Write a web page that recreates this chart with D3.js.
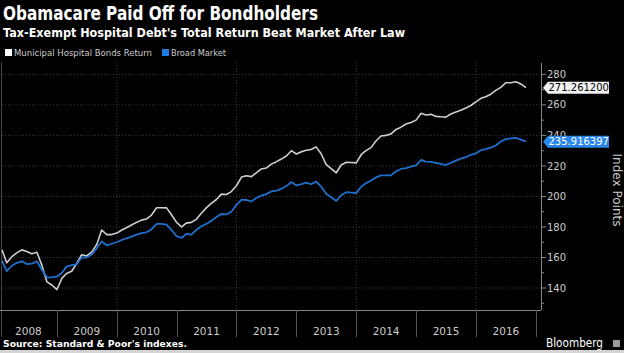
<!DOCTYPE html>
<html>
<head>
<meta charset="utf-8">
<script src="https://cdn.jsdelivr.net/npm/d3@7"></script>
<style>
body { margin: 0; background: #000; }
svg { display: block; }
text { font-family: "DejaVu Sans", sans-serif; }
</style>
</head>
<body>
<svg width="624" height="353"></svg>
<script>
// monthly index values, Feb 2008 .. Nov 2016
const months = d3.timeMonth.range(new Date(2008, 1, 1), new Date(2016, 11, 1));
const hospital = [165, 156.5, 160.5, 163, 165, 164, 162.5, 163.4, 155, 144, 142,
    139, 146.5, 149.5, 151, 156, 161.8, 161, 163.5, 168.5, 178, 175, 175,
    176, 178, 179.5, 181.3, 183, 184.5, 185.2, 187.8, 192.6, 192.6, 192.5, 188,
    183, 180, 182.5, 183, 185, 189, 192.5, 195.5, 198, 201.5, 201.3, 203.2,
    207, 212.7, 213.6, 213, 215.5, 218, 218.6, 221.2, 222.8, 224.5, 226.5, 230,
    227.8, 229.3, 230.3, 230.8, 232.5, 228, 221, 218.2, 215.5, 220.6, 222.4, 222.2,
    222, 227.5, 230, 232, 236.3, 239.6, 240, 241, 243.9, 245.4, 247.5, 248.4,
    250, 254.5, 253.4, 253.8, 252.5, 252.2, 252, 254, 255.3, 256.5, 258, 259.6,
    262, 264.3, 265.3, 267, 269.5, 271.5, 274.5, 274.5, 275.2, 273.7, 271.2612];
const broad = [158, 151, 154.6, 156.5, 157.5, 155.7, 156, 157.5, 152, 147, 147,
    147.5, 150, 154, 155, 155.5, 160, 160, 162, 166, 170.5, 168, 169,
    170, 171.5, 172.6, 173.7, 175, 176, 176.5, 178.5, 182, 182, 181.5, 178,
    174, 172.8, 175.5, 175, 178, 180.5, 182, 184, 186.5, 188.5, 188.2, 190,
    194.5, 197.8, 197.8, 196.7, 199, 200.5, 201.5, 203.3, 203.8, 205, 206.8, 209.5,
    207.2, 208, 209, 208, 209.8, 206.5, 201.8, 199.5, 197, 200.8, 202.8, 202.5,
    202.2, 206.5, 208.7, 210.5, 212.5, 213.8, 213.8, 213.8, 216.5, 218, 218.6, 219.5,
    220.4, 224, 222.8, 222.6, 222, 221.3, 220.6, 222, 223.5, 224.8, 225.7, 227.3,
    228.3, 230.3, 231, 232, 233.4, 236, 237.6, 238, 238.4, 237.2, 235.916397];
const years = ["2008", "2009", "2010", "2011", "2012", "2013", "2014", "2015", "2016"];
const yTicks = [140, 160, 180, 200, 220, 240, 260, 280];
const yMinor = [130, 150, 170, 190, 210, 230, 250, 270];
const gridYears = [2010, 2012, 2014, 2016];

const svg = d3.select("svg");
const plotLeft = 2, plotRight = 541, plotTop = 62, plotBottom = 310;

const x = d3.scaleTime()
    .domain([new Date(2008, 1, 1), new Date(2017, 1, 1)])
    .range([plotLeft, plotRight]);
const y = d3.scaleLinear()
    .domain([125.6, 288.1])
    .range([plotBottom, plotTop]);

svg.append("rect").attr("width", 624).attr("height", 353).attr("fill", "#000");
svg.append("rect").attr("y", 350).attr("width", 624).attr("height", 3).attr("fill", "#d4d4d4");

// titles
svg.append("text").attr("x", 3).attr("y", 20)
    .attr("fill", "#fff").attr("font-weight", "bold").attr("font-size", 19)
    .attr("textLength", 315).attr("lengthAdjust", "spacingAndGlyphs")
    .text("Obamacare Paid Off for Bondholders");
svg.append("text").attr("x", 3).attr("y", 36.5)
    .attr("fill", "#fff").attr("font-weight", "bold").attr("font-size", 13)
    .attr("textLength", 402).attr("lengthAdjust", "spacingAndGlyphs")
    .text("Tax-Exempt Hospital Debt's Total Return Beat Market After Law");

// legend
const legendItems = [
    { name: "Municipal Hospital Bonds Return", color: "#ffffff", x: 5, len: 138 },
    { name: "Broad Market", color: "#1e7be0", x: 162, len: 55 }
];
const legend = svg.selectAll(".legend")
    .data(legendItems)
    .enter().append("g")
    .attr("class", "legend")
    .attr("transform", d => `translate(${d.x},49)`);
legend.append("rect").attr("width", 7).attr("height", 7).attr("fill", d => d.color);
legend.append("text").attr("x", 9).attr("y", 7)
    .attr("fill", "#ccc").attr("font-size", 9)
    .attr("textLength", d => d.len).attr("lengthAdjust", "spacingAndGlyphs")
    .text(d => d.name);

// grid
svg.append("g").selectAll("line")
    .data(yTicks)
    .enter().append("line")
    .attr("x1", plotLeft).attr("x2", plotRight)
    .attr("y1", d => y(d)).attr("y2", d => y(d))
    .attr("stroke", "#3c3c3c").attr("stroke-dasharray", "1,2");
svg.append("g").selectAll("line")
    .data(gridYears)
    .enter().append("line")
    .attr("x1", d => x(new Date(d, 0, 1))).attr("x2", d => x(new Date(d, 0, 1)))
    .attr("y1", plotTop).attr("y2", plotBottom)
    .attr("stroke", "#3c3c3c").attr("stroke-dasharray", "1,2");

// frame and bottom band
svg.append("line").attr("x1", 1.5).attr("x2", 1.5).attr("y1", plotTop).attr("y2", 337)
    .attr("stroke", "#444");
svg.append("line").attr("x1", 0).attr("x2", plotRight).attr("y1", plotBottom + 0.5).attr("y2", plotBottom + 0.5)
    .attr("stroke", "#888");
svg.append("line").attr("x1", plotRight + 0.5).attr("x2", plotRight + 0.5).attr("y1", plotTop + 1).attr("y2", plotBottom)
    .attr("stroke", "#888");

const yearStarts = years.map(d => new Date(+d, 0, 1)).concat([new Date(2017, 0, 1)]);
svg.append("g").selectAll("line")
    .data(yearStarts.slice(1))
    .enter().append("line")
    .attr("x1", d => Math.round(x(d)) + 0.5).attr("x2", d => Math.round(x(d)) + 0.5)
    .attr("y1", plotBottom).attr("y2", 337)
    .attr("stroke", "#555");
svg.append("g").selectAll("text")
    .data(years)
    .enter().append("text")
    .attr("x", (d, i) => (Math.max(0, x(yearStarts[i])) + x(yearStarts[i + 1])) / 2)
    .attr("y", 335)
    .attr("text-anchor", "middle")
    .attr("fill", "#ccc").attr("font-size", 10.5)
    .text(d => d);

// right axis
svg.append("g").selectAll("line")
    .data(yTicks)
    .enter().append("line")
    .attr("x1", plotRight).attr("x2", plotRight + 5)
    .attr("y1", d => y(d)).attr("y2", d => y(d))
    .attr("stroke", "#888");
svg.append("g").selectAll("line")
    .data(yMinor)
    .enter().append("line")
    .attr("x1", plotRight).attr("x2", plotRight + 3)
    .attr("y1", d => y(d)).attr("y2", d => y(d))
    .attr("stroke", "#888");
svg.append("g").selectAll("text")
    .data(yTicks)
    .enter().append("text")
    .attr("x", 547).attr("y", d => y(d) + 3.6)
    .attr("fill", "#ccc").attr("font-size", 10)
    .text(d => d);
svg.append("text")
    .attr("transform", "translate(613,190) rotate(90)")
    .attr("text-anchor", "middle")
    .attr("fill", "#ccc").attr("font-size", 12)
    .text("Index Points");

// lines
const line = d3.line()
    .x((d, i) => x(months[i]))
    .y(d => y(d));
svg.append("path").datum(hospital)
    .attr("fill", "none").attr("stroke", "#cfcfcf")
    .attr("stroke-width", 1.6).attr("stroke-linejoin", "round")
    .attr("d", line);
svg.append("path").datum(broad)
    .attr("fill", "none").attr("stroke", "#1f6fcc")
    .attr("stroke-width", 1.8).attr("stroke-linejoin", "round")
    .attr("d", line);

// last value tags
const tags = [
    { value: hospital[hospital.length - 1], label: "271.261200", fill: "#f2f2f2", color: "#000" },
    { value: broad[broad.length - 1], label: "235.916397", fill: "#2a86ea", color: "#fff" }
];
const tag = svg.selectAll(".tag")
    .data(tags)
    .enter().append("g")
    .attr("class", "tag")
    .attr("transform", d => `translate(0,${y(d.value)})`);
tag.append("path")
    .attr("d", "M543,0 L548,-6 L609,-6 L609,6 L548,6 Z")
    .attr("fill", d => d.fill);
tag.append("text")
    .attr("x", 548.5).attr("y", 3.7)
    .attr("fill", d => d.color).attr("font-size", 10)
    .text(d => d.label);

// footer
svg.append("text").attr("x", 3).attr("y", 347)
    .attr("fill", "#fff").attr("font-weight", "bold").attr("font-size", 9)
    .attr("textLength", 184).attr("lengthAdjust", "spacingAndGlyphs")
    .text("Source: Standard & Poor's indexes.");
svg.append("text").attr("x", 546).attr("y", 347)
    .attr("fill", "#fff").attr("font-size", 11.5)
    .attr("textLength", 57).attr("lengthAdjust", "spacingAndGlyphs")
    .text("Bloomberg");
svg.append("rect").attr("x", 613).attr("y", 340).attr("width", 7).attr("height", 7)
    .attr("fill", "#9a9a9a");
</script>
</body>
</html>
